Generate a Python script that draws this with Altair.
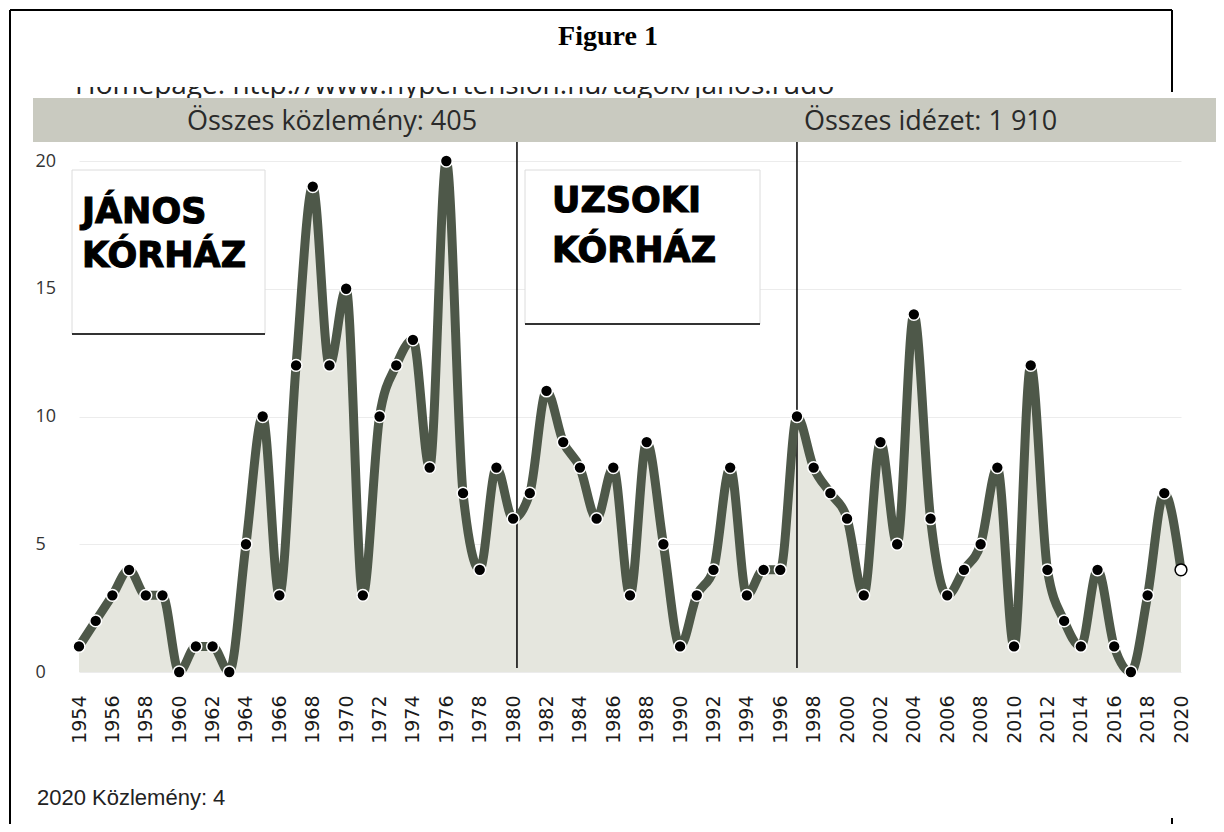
import altair as alt
import pandas as pd

# ---------------- data ----------------
YEARS = list(range(1954, 2021))
COUNTS = [1, 2, 3, 4, 3, 3, 0, 1, 1, 0,
          5, 10, 3, 12, 19, 12, 15, 3, 10, 12,
          13, 8, 20, 7, 4, 8, 6, 7, 11, 9,
          8, 6, 8, 3, 9, 5, 1, 3, 4, 8,
          3, 4, 4, 10, 8, 7, 6, 3, 9, 5,
          14, 6, 3, 4, 5, 8, 1, 12, 4, 2,
          1, 4, 1, 0, 3, 7, 4]
PARTIAL_YEAR = 2020
TICK_YEARS = list(range(1954, 2021, 2))
Y_TICKS = [0, 5, 10, 15, 20]
PERIOD_BREAKS = [1980.23, 1997]

TITLE = "Figure 1"
HOMEPAGE = "Homepage: http://www.hypertension.hu/tagok/janos.rudo"
BAND_LEFT = "Összes közlemény: 405"
BAND_RIGHT = "Összes idézet: 1 910"
FOOTER = "2020 Közlemény: 4"
HOSP1 = ["JÁNOS", "KÓRHÁZ"]
HOSP2 = ["UZSOKI", "KÓRHÁZ"]

df = pd.DataFrame({"year": YEARS, "count": COUNTS})
full = df[df["year"] != PARTIAL_YEAR]
part = df[df["year"] == PARTIAL_YEAR]

W, H = 1102, 511

LINE_COLOR = "#4e5849"
FILL_COLOR = "#e5e6de"

x_enc = alt.X(
    "year:Q",
    scale=alt.Scale(domain=[1954, 2020], nice=False, zero=False),
    axis=alt.Axis(values=TICK_YEARS, format="d", labelAngle=-90,
                  labelFont="DejaVu Sans", labelFontSize=19, labelColor="#1a1a1a",
                  labelPadding=23, labelFlush=False, labelOverlap=False,
                  labelSeparation=0,
                  ticks=False, tickSize=0, domain=False, grid=False, title=""),
)
y_enc = alt.Y(
    "count:Q",
    scale=alt.Scale(domain=[0, 20], nice=False, zero=True),
    axis=alt.Axis(values=Y_TICKS, labelAlign="left", labelPadding=44,
                  labelFont="Open Sans", labelFontSize=18, labelColor="#333",
                  ticks=False, tickSize=0, domain=False, grid=True,
                  gridColor="#ececec", gridWidth=1, title=""),
)


def one():
    return pd.DataFrame({"t": [""]})


def prect(x0, x1, y0, y1, **kw):
    return alt.Chart(one()).mark_rect(**kw).encode(
        x=alt.value(x0), x2=alt.value(x1), y=alt.value(y0), y2=alt.value(y1))


def pline(x0, x1, y0, y1, **kw):
    return alt.Chart(one()).mark_rule(**kw).encode(
        x=alt.value(x0), x2=alt.value(x1), y=alt.value(y0), y2=alt.value(y1))


def ptext(s, x, y, **kw):
    return alt.Chart(pd.DataFrame({"t": [s]})).mark_text(**kw).encode(
        x=alt.value(x), y=alt.value(y), text="t:N")


base = alt.Chart(df)
area = base.mark_area(interpolate="monotone", color=FILL_COLOR).encode(x=x_enc, y=y_enc)

boxes = [
    prect(-7, 186, 9, 173, fill="white", stroke="#dcdcdc", strokeWidth=1),
    pline(-7, 186, 173, 173, color="#333", strokeWidth=2),
    prect(446, 681, 9, 163, fill="white", stroke="#dcdcdc", strokeWidth=1),
    pline(446, 681, 163, 163, color="#333", strokeWidth=2),
]

rules = alt.Chart(pd.DataFrame({"year": PERIOD_BREAKS})).mark_rule(
    color="black", strokeWidth=1.5).encode(
    x=x_enc, y=alt.value(-21), y2=alt.value(507))

line = base.mark_line(interpolate="monotone", color=LINE_COLOR, strokeWidth=9,
                      strokeCap="round", strokeJoin="round").encode(
    x=x_enc, y=y_enc)

pts = alt.Chart(full).mark_circle(size=140, fill="black", stroke="white",
                                  strokeWidth=1.5, opacity=1).encode(
    x=x_enc, y=y_enc)
pts_open = alt.Chart(part).mark_circle(size=140, fill="white", stroke="black",
                                       strokeWidth=1.5, opacity=1).encode(
    x=x_enc, y=y_enc)

hosp_style = dict(font="DejaVu Sans", fontWeight="bold", fontSize=35, align="left",
                  baseline="alphabetic", color="black", stroke="black", strokeWidth=1.1)
hosp = [
    ptext(HOSP1[0], 3, 62, **hosp_style),
    ptext(HOSP1[1], 3, 106, **hosp_style),
    ptext(HOSP2[0], 473, 51, **hosp_style),
    ptext(HOSP2[1], 473, 101, **hosp_style),
]

header = [
    ptext(HOMEPAGE, -4, -67, font="Open Sans", fontSize=28, align="left",
          baseline="alphabetic", color="#222"),
    prect(-62, 1088, -105, -74, fill="white"),
    prect(-46, 1137, -63, -19, fill="#c9cac0"),
    ptext(BAND_LEFT, 108, -31, font="Open Sans", fontSize=27, align="left",
          baseline="alphabetic", color="#2a2a2a"),
    ptext(BAND_RIGHT, 725, -31, font="Open Sans", fontSize=27, align="left",
          baseline="alphabetic", color="#2a2a2a"),
    ptext(TITLE, 529, -116, font="Liberation Serif", fontWeight="bold", fontSize=28,
          align="center", baseline="alphabetic", color="black"),
    pline(-69, 1093, -151, -151, color="black", strokeWidth=2),
    pline(-69, -69, -151, 663, color="black", strokeWidth=2),
    pline(1093, 1093, -151, -69, color="black", strokeWidth=2),
    pline(1093, 1093, 657, 663, color="black", strokeWidth=2),
    ptext(FOOTER, -42, 644, font="Liberation Sans", fontSize=22, align="left",
          baseline="alphabetic", color="#222"),
]

chart = alt.layer(area, *boxes, rules, line, pts, pts_open, *hosp, *header).properties(
    width=W, height=H,
    padding={"left": 71, "top": 153, "right": 35, "bottom": 152},
    autosize=alt.AutoSizeParams(type="none"),
    background="white",
).configure_view(stroke="transparent").configure_axisX(labelOverlap=False)

chart.save("out.html", embed_options={"renderer": "svg", "actions": False})
